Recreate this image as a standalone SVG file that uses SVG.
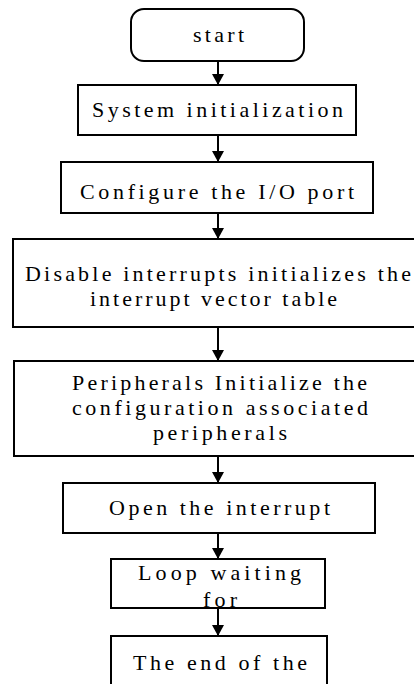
<svg xmlns="http://www.w3.org/2000/svg" width="414" height="684" viewBox="0 0 414 684" font-family="Liberation Serif, Times New Roman, serif">
<style>
.box{fill:#fff;stroke:#000;stroke-width:2}
.t{font-family:'Liberation Serif', serif;font-size:22px;fill:#000;text-anchor:start}
.c{stroke:#000;stroke-width:2;fill:none}
</style>
<defs>
<marker id="ah" markerWidth="11" markerHeight="12" refX="11" refY="6" orient="auto" markerUnits="userSpaceOnUse" viewBox="0 0 11 12">
<path d="M0,0 L11,6 L0,12 Z" fill="#000"/>
</marker>
</defs>
<rect width="414" height="684" fill="#fff"/>
<g id="connectors">
<line class="c" x1="218" y1="61" x2="218" y2="85" marker-end="url(#ah)"/>
<line class="c" x1="218" y1="135" x2="218" y2="162" marker-end="url(#ah)"/>
<line class="c" x1="218" y1="213" x2="218" y2="239" marker-end="url(#ah)"/>
<line class="c" x1="218" y1="327" x2="218" y2="361" marker-end="url(#ah)"/>
<line class="c" x1="218" y1="456" x2="218" y2="483" marker-end="url(#ah)"/>
<line class="c" x1="218" y1="533" x2="218" y2="559" marker-end="url(#ah)"/>
<line class="c" x1="218" y1="608" x2="218" y2="636" marker-end="url(#ah)"/>
</g>
<g id="start">
<rect class="box" x="131" y="9" width="173" height="52" rx="13"/>
<text class="t" x="193" y="42" textLength="51" lengthAdjust="spacing">start</text>
</g>
<g id="sysinit">
<rect class="box" x="78" y="85" width="278" height="50"/>
<text class="t" x="92" y="117" textLength="251" lengthAdjust="spacing">System initialization</text>
</g>
<g id="config">
<rect class="box" x="61" y="162" width="312" height="51"/>
<text class="t" x="80" y="199" textLength="274" lengthAdjust="spacing">Configure the I/O port</text>
</g>
<g id="disable">
<rect class="box" x="13" y="239" width="405" height="88"/>
<text class="t" x="25" y="281" textLength="386" lengthAdjust="spacing">Disable interrupts initializes the</text>
<text class="t" x="90" y="306" textLength="247" lengthAdjust="spacing">interrupt vector table</text>
</g>
<g id="peripherals">
<rect class="box" x="14" y="361" width="404" height="95"/>
<text class="t" x="72" y="390" textLength="295" lengthAdjust="spacing">Peripherals Initialize the</text>
<text class="t" x="72" y="415" textLength="296" lengthAdjust="spacing">configuration associated</text>
<text class="t" x="153" y="440" textLength="134" lengthAdjust="spacing">peripherals</text>
</g>
<g id="open">
<rect class="box" x="63" y="483" width="312" height="50"/>
<text class="t" x="109" y="515" textLength="221" lengthAdjust="spacing">Open the interrupt</text>
</g>
<g id="loop">
<rect class="box" x="111" y="559" width="214" height="49"/>
<text class="t" x="138" y="580" textLength="163" lengthAdjust="spacing">Loop waiting</text>
<text class="t" x="203" y="607" textLength="34" lengthAdjust="spacing">for</text>
</g>
<g id="end">
<rect class="box" x="111" y="636" width="216" height="60"/>
<text class="t" x="133" y="670" textLength="174" lengthAdjust="spacing">The end of the</text>
</g>
</svg>
